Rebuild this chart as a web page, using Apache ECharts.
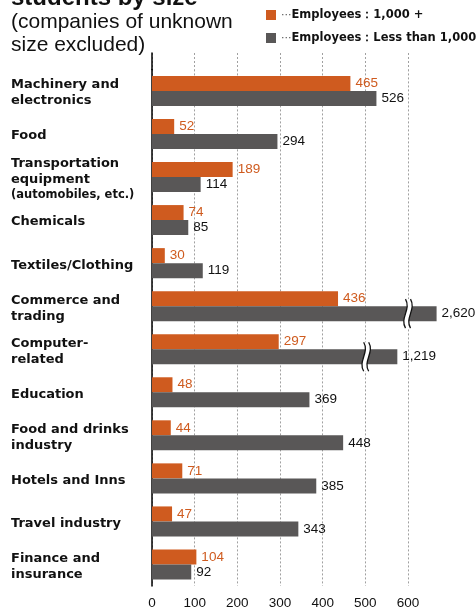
<!DOCTYPE html>
<html>
<head>
<meta charset="utf-8">
<script src="https://cdn.jsdelivr.net/npm/echarts@6/dist/echarts.min.js"></script>
<style>html,body{margin:0;padding:0;background:#fff;}#c{width:476px;height:610px;}</style>
</head>
<body>
<div id="c"></div>
<script>
var categories = ['Machinery and electronics','Food','Transportation equipment','Chemicals','Textiles/Clothing','Commerce and trading','Computer-related','Education','Food and drinks industry','Hotels and Inns','Travel industry','Finance and insurance'];
var categoryLabels = ['Machinery and\nelectronics','Food','Transportation\nequipment\n{s|(automobiles, etc.)}','Chemicals','Textiles/Clothing','Commerce and\ntrading','Computer-\nrelated','Education','Food and drinks\nindustry','Hotels and Inns','Travel industry','Finance and\ninsurance'];
var large = [465, 52, 189, 74, 30, 436, 297, 48, 44, 71, 47, 104];
var small = [526, 294, 114, 85, 119, 2620, 1219, 369, 448, 385, 343, 92];
// drawn (truncated) length for broken bars, in axis units
var smallDrawn = [null, null, null, null, null, 667, 575, null, null, null, null, null];
// where the break symbol sits on broken bars
var breakAt = [null, null, null, null, null, 600, 502, null, null, null, null, null];
var xTicks = [0, 100, 200, 300, 400, 500, 600];
var seriesNames = ['Employees\uFF1A1,000 +', 'Employees\uFF1ALess than 1,000'];

var ORANGE = '#cf5b1f', GRAY = '#595757';
var BAR_W = 15;

var smallData = small.map(function(v, i){ return smallDrawn[i] != null ? smallDrawn[i] : v; });
var breakData = [];
breakAt.forEach(function(v, i){ if (v != null) breakData.push([v, i]); });

var chart = echarts.init(document.getElementById('c'), null, {renderer: 'canvas'});
var xAxisCommon = {
  type: 'value', min: xTicks[0], max: xTicks[xTicks.length - 1], interval: 100,
  axisLine: {show: false}, axisTick: {show: false},
  splitLine: {show: true, lineStyle: {color: '#a0a0a0', type: [2, 2], width: 1}}
};
chart.setOption({
  animation: false,
  title: [
    {text: 'students by size', left: 11, top: -14, padding: 0,
     textStyle: {fontFamily: 'Liberation Sans', fontWeight: 'bold', fontSize: 24, color: '#111'}},
    {text: '(companies of unknown\nsize excluded)', left: 11, top: 11, padding: 0,
     textStyle: {fontFamily: 'Liberation Sans', fontWeight: 'normal', fontSize: 21, lineHeight: 23, color: '#111'}}
  ],
  legend: {
    orient: 'vertical', left: 266, top: 9, padding: 0,
    itemWidth: 10, itemHeight: 10, itemGap: 11, icon: 'rect',
    data: seriesNames,
    formatter: function(n){ return '{d|\u00B7\u00B7\u00B7}{b|' + n + '}'; },
    textStyle: {
      rich: {
        d: {fontFamily: 'DejaVu Sans', fontSize: 11, color: '#555'},
        b: {fontFamily: 'DejaVu Sans', fontWeight: 'bold', fontSize: 11.5, color: '#111'}
      }
    }
  },
  grid: [
    {left: 152, right: 68, top: 69.4, bottom: 23, containLabel: false},
    {left: 152, right: 68, top: 53, height: 16.4, containLabel: false}
  ],
  xAxis: [
    Object.assign({}, xAxisCommon, {gridIndex: 0,
      axisLabel: {show: true, margin: 10, fontFamily: 'Liberation Sans', fontSize: 13.5, color: '#111'}}),
    Object.assign({}, xAxisCommon, {gridIndex: 1, axisLabel: {show: false}})
  ],
  yAxis: [
    {type: 'category', gridIndex: 0, inverse: true, data: categories,
     axisLine: {show: true, lineStyle: {color: '#000', width: 1.5}},
     axisTick: {show: false}, splitLine: {show: false},
     axisLabel: {
       align: 'left', margin: 141, padding: [4, 0, 0, 0],
       fontFamily: 'DejaVu Sans', fontWeight: 'bold', fontSize: 13, lineHeight: 16, color: '#111',
       formatter: function(v, i){ return categoryLabels[categories.indexOf(v)]; },
       rich: {s: {fontFamily: 'DejaVu Sans', fontWeight: 'bold', fontSize: 11.5, lineHeight: 14, color: '#111'}}
     }},
    {type: 'category', gridIndex: 1, data: [''],
     axisLine: {show: true, lineStyle: {color: '#000', width: 1.5}},
     axisTick: {show: false}, axisLabel: {show: false}, splitLine: {show: false}}
  ],
  series: [
    {name: seriesNames[0], type: 'bar', xAxisIndex: 0, yAxisIndex: 0, data: large,
     barWidth: BAR_W, barGap: '0%', clip: false,
     itemStyle: {color: ORANGE},
     label: {show: true, position: 'right', distance: 5, fontFamily: 'Liberation Sans', fontSize: 13.5, color: ORANGE,
       formatter: function(p){ return large[p.dataIndex].toLocaleString('en-US'); }}},
    {name: seriesNames[1], type: 'bar', xAxisIndex: 0, yAxisIndex: 0, data: smallData,
     barWidth: BAR_W, barGap: '0%', clip: false,
     itemStyle: {color: GRAY},
     label: {show: true, position: 'right', distance: 5, fontFamily: 'Liberation Sans', fontSize: 13.5, color: '#111',
       formatter: function(p){ return small[p.dataIndex].toLocaleString('en-US'); }}},
    {type: 'custom', xAxisIndex: 0, yAxisIndex: 0, data: breakData, clip: false, z: 10,
     renderItem: function(params, api){
       var p = api.coord([api.value(0), api.value(1)]);
       var x = p[0], y = p[1] + BAR_W / 2;
       var h = BAR_W + 14, top = y - h / 2, bot = y + h / 2, a = 6, g = 2.5;
       function curve(cx, rev){
         if (!rev) return 'M' + cx + ',' + top + ' C' + (cx + a) + ',' + (top + h * 0.35) + ' ' + (cx - a) + ',' + (top + h * 0.65) + ' ' + cx + ',' + bot;
         return 'L' + cx + ',' + bot + ' C' + (cx - a) + ',' + (top + h * 0.65) + ' ' + (cx + a) + ',' + (top + h * 0.35) + ' ' + cx + ',' + top + ' Z';
       }
       return {type: 'group', children: [
         {type: 'path', shape: {pathData: curve(x - g, false) + ' ' + curve(x + g, true)}, style: {fill: '#fff', stroke: null}},
         {type: 'path', shape: {pathData: curve(x - g, false)}, style: {fill: null, stroke: '#111', lineWidth: 1.3}},
         {type: 'path', shape: {pathData: curve(x + g, false)}, style: {fill: null, stroke: '#111', lineWidth: 1.3}}
       ]};
     }}
  ]
});
</script>
</body>
</html>
